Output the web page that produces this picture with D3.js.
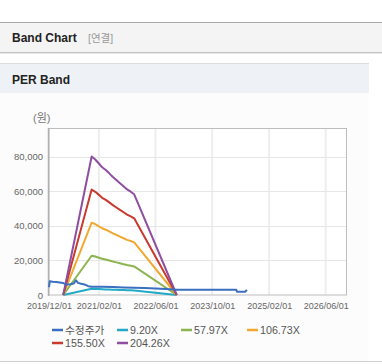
<!DOCTYPE html>
<html>
<head>
<meta charset="utf-8">
<script src="https://cdn.jsdelivr.net/npm/d3@7"></script>
<style>
  html, body { margin: 0; padding: 0; background: #fff; }
  svg { display: block; font-family: "Liberation Sans", Arial, "Noto Sans CJK KR", sans-serif; }
</style>
</head>
<body>
<svg id="chart" width="382" height="364"></svg>
<script>
// ---- data ----
const priceDates = ["2019-12-01","2019-12-08","2020-01-01","2020-02-01","2020-03-01","2020-04-01","2020-05-01","2020-06-01","2020-07-01","2020-07-20","2020-08-05","2020-09-01","2020-10-01","2020-11-01","2020-12-01","2021-03-01","2021-06-01","2021-09-01","2021-12-01","2022-03-01","2022-06-01","2022-09-01","2022-12-01","2023-06-01","2024-01-01","2024-04-25","2024-05-01","2024-07-10","2024-07-25"];
const priceValues = [4500,8000,7700,7500,7200,6900,6000,6200,6700,8500,7000,6500,6100,5100,4800,4700,4600,4400,4200,4000,3700,3400,3100,3050,3000,3000,1900,1900,3000];

const bandDates = ["2020-04-01","2020-12-01","2021-01-01","2021-02-01","2021-03-01","2021-04-01","2021-05-01","2021-06-01","2021-07-01","2021-08-01","2021-09-01","2021-10-01","2021-11-01","2021-12-01","2022-12-01"];
const band920  = [0,3600,3530,3420,3320,3250,3170,3070,2990,2910,2830,2750,2690,2620,0];
const band5797 = [0,22700,22220,21570,20940,20490,19950,19350,18840,18330,17820,17310,16940,16520,0];
const band10673 = [0,41800,40910,39710,38560,37720,36730,35630,34690,33750,32810,31870,31190,30410,0];
const band15550 = [0,60900,59610,57860,56180,54960,53520,51920,50550,49180,47810,46440,45450,44310,0];
const band20426 = [0,80000,78300,76000,73800,72200,70300,68200,66400,64600,62800,61000,59700,58200,0];

const seriesNames = ["수정주가","9.20X","57.97X","106.73X","155.50X","204.26X"];
const seriesColors = ["#3a6fc0","#21a9c5","#8cb450","#f0a830","#c83a2e","#8e4fa0"];

const xTickLabels = ["2019/12/01","2021/02/01","2022/06/01","2023/10/01","2025/02/01","2026/06/01"];
const yTickValues = [0,20000,40000,60000,80000];
const yUnit = "(원)";
const titleText = "Band Chart";
const titleSub = "[연결]";
const sectionText = "PER Band";

// ---- page frame ----
const svg = d3.select("#chart");
svg.append("rect").attr("x",0).attr("y",22).attr("width",382).attr("height",31).attr("fill","#f4f4f4");
svg.append("line").attr("x1",0).attr("x2",382).attr("y1",22.5).attr("y2",22.5).attr("stroke","#aaa");
svg.append("line").attr("x1",0).attr("x2",382).attr("y1",52.5).attr("y2",52.5).attr("stroke","#c4c4c4");
svg.append("line").attr("x1",0).attr("x2",382).attr("y1",53.5).attr("y2",53.5).attr("stroke","#e6e6e6");
svg.append("text").attr("x",12).attr("y",42).attr("font-size",12).attr("font-weight","bold").attr("fill","#222").text(titleText);
svg.append("text").attr("x",88).attr("y",42).attr("font-size",10.5).attr("fill","#999").text(titleSub);

svg.append("rect").attr("x",0).attr("y",64).attr("width",369).attr("height",297).attr("fill","#fcfcfc");
svg.append("rect").attr("x",0).attr("y",64).attr("width",369).attr("height",29).attr("fill","#eef2f7");
svg.append("line").attr("x1",0).attr("x2",369).attr("y1",63.5).attr("y2",63.5).attr("stroke","#dcdcdc");
svg.append("line").attr("x1",0).attr("x2",382).attr("y1",361.5).attr("y2",361.5).attr("stroke","#d0d0d0");
svg.append("text").attr("x",12).attr("y",84).attr("font-size",12).attr("font-weight","bold").attr("fill","#222").text(sectionText);

// ---- scales ----
const parse = d3.timeParse("%Y-%m-%d");
const parseTick = d3.timeParse("%Y/%m/%d");
const x = d3.scaleTime().domain([parse("2019-12-01"), parse("2026-12-01")]).range([49, 347]);
const y = d3.scaleLinear().domain([0, 96500]).range([295, 128]);

const plot = svg.append("g");
plot.append("rect").attr("x",49).attr("y",128).attr("width",298).attr("height",167).attr("fill","#fff");

// gridlines
const tickDates = xTickLabels.map(parseTick);
plot.selectAll(".vg").data(tickDates.slice(1)).join("line")
  .attr("x1", d => x(d)).attr("x2", d => x(d)).attr("y1",128).attr("y2",295)
  .attr("stroke","#eeeeee").attr("stroke-width",2);
plot.selectAll(".hg").data(yTickValues.slice(1)).join("line")
  .attr("x1",49).attr("x2",347).attr("y1", d => Math.round(y(d))+0.5).attr("y2", d => Math.round(y(d))+0.5)
  .attr("stroke","#e6e6e6");

// border
plot.append("rect").attr("x",49).attr("y",128.5).attr("width",297.5).attr("height",166.5)
  .attr("fill","none").attr("stroke","#bdbdbd");
plot.append("line").attr("x1",48.5).attr("x2",48.5).attr("y1",128).attr("y2",296).attr("stroke","#b0b0b0").attr("stroke-width",1.5);

// axes
const yAxis = d3.axisLeft(y).tickValues(yTickValues).tickSize(0).tickPadding(5).tickFormat(d3.format(","));
const ya = svg.append("g").attr("transform","translate(48,0)").call(yAxis);
ya.select(".domain").remove();
ya.selectAll("text").attr("font-size",9.5).attr("fill","#666").attr("font-family","Liberation Sans, Arial, sans-serif");

const xAxis = d3.axisBottom(x).tickValues(tickDates).tickSize(0).tickPadding(8).tickFormat(d3.timeFormat("%Y/%m/%d"));
const xa = svg.append("g").attr("transform","translate(0,295)").call(xAxis);
xa.select(".domain").remove();
xa.selectAll("text").attr("font-size",9).attr("fill","#666").attr("font-family","Liberation Sans, Arial, sans-serif");

svg.append("text").attr("x",33).attr("y",122).attr("font-size",11).attr("fill","#777").text(yUnit);

// ---- lines ----
const line = d3.line().x(d => x(d[0])).y(d => y(d[1]));
const bands = [band920, band5797, band10673, band15550, band20426];
const bDates = bandDates.map(parse);
bands.forEach((vals, i) => {
  plot.append("path").datum(bDates.map((d, j) => [d, vals[j]]))
    .attr("d", line).attr("fill","none").attr("stroke", seriesColors[i+1])
    .attr("stroke-width",2).attr("stroke-linejoin","round");
});
const pDates = priceDates.map(parse);
plot.append("path").datum(pDates.map((d, j) => [d, priceValues[j]]))
  .attr("d", line).attr("fill","none").attr("stroke", seriesColors[0])
  .attr("stroke-width",2).attr("stroke-linejoin","round");

// ---- legend ----
const legendPos = [[52,330],[117,330],[181,330],[247,330],[52,343],[117,343]];
const lg = svg.append("g");
seriesNames.forEach((name, i) => {
  const [lx, ly] = legendPos[i];
  lg.append("line").attr("x1",lx).attr("x2",lx+11).attr("y1",ly).attr("y2",ly)
    .attr("stroke",seriesColors[i]).attr("stroke-width",2.5);
  lg.append("text").attr("x",lx+13).attr("y",ly+4).attr("font-size",10.7).attr("fill","#555").text(name);
});
</script>
</body>
</html>
